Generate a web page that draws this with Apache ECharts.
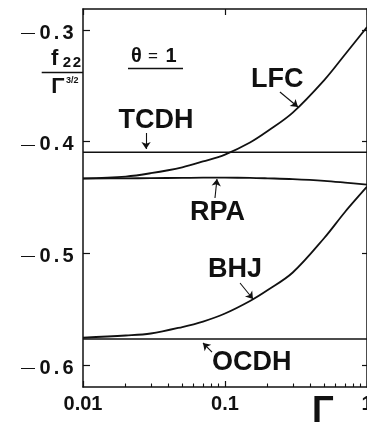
<!DOCTYPE html>
<html><head><meta charset="utf-8">
<script src="https://cdn.jsdelivr.net/npm/echarts@6/dist/echarts.min.js"></script>
<style>html,body{margin:0;padding:0;background:#fff}#c{width:367px;height:422px}</style>
</head><body><div id="c"></div>
<script>
// ---- data ----
const gamma = [0.01, 0.02, 0.03, 0.05, 0.07, 0.1, 0.15, 0.2, 0.3, 0.5, 0.7, 1.0];
const lfcValues = [-0.4329, -0.4312, -0.4282, -0.4229, -0.4177, -0.4115, -0.4007, -0.3904, -0.3739, -0.3448, -0.3219, -0.2973];
const rpaValues = [-0.4330, -0.4328, -0.4326, -0.4324, -0.4322, -0.4322, -0.4324, -0.4328, -0.4335, -0.4350, -0.4366, -0.4385];
const bhjValues = [-0.5755, -0.5735, -0.5717, -0.5659, -0.5610, -0.5538, -0.5426, -0.5328, -0.5171, -0.4862, -0.4629, -0.4403];
const tcdhValue = -0.4095;
const ocdhValue = -0.5766;
const gammaRange = [0.01, 1];
const yRange = [-0.6196, -0.2812];
const yTicks = [-0.6, -0.5, -0.4, -0.3];
const yTickLabels = ['−0.6', '−0.5', '−0.4', '−0.3'];
const xTicks = [0.01, 0.1, 1];
const xTickLabels = ['0.01', '0.1', '1'];
const xMinorTicks = [0.02, 0.03, 0.04, 0.05, 0.06, 0.07, 0.08, 0.09, 0.2, 0.3, 0.4, 0.5, 0.6, 0.7, 0.8, 0.9];
const curveNames = ['LFC', 'TCDH', 'RPA', 'BHJ', 'OCDH'];
// arrows from label to curve, in data coordinates [gamma, value]
const arrows = [
  [[0.0278, -0.3922], [0.0278, -0.4065]],
  [[0.2437, -0.3555], [0.3266, -0.3689]],
  [[0.0850, -0.4504], [0.0878, -0.4334]],
  [[0.1276, -0.5265], [0.1574, -0.5408]],
  [[0.0810, -0.5883], [0.0700, -0.5802]]
];

const FONT = '"Liberation Sans", Arial, Helvetica, sans-serif';
const INK = '#111';

const chart = echarts.init(document.getElementById('c'), null, {renderer: 'canvas'});

function yLabel(v) {
  let i = 0, best = 1e9;
  yTicks.forEach((t, k) => { const d = Math.abs(t - v); if (d < best) { best = d; i = k; } });
  const s = yTickLabels[i].replace('−', '');
  const parts = s.split('');
  return '{m|—}' + parts.map(c => c === '.' ? '{p|.}' : '{d|' + c + '}').join('');
}
function xLabel(v) {
  const i = xTicks.findIndex(t => Math.abs(Math.log10(t) - Math.log10(v)) < 1e-6);
  return i >= 0 ? xTickLabels[i] : '';
}

const pairs = vals => gamma.map((g, i) => [g, vals[i]]);
const lineStyle = {color: INK, width: 1.8};

function txt(text, x, y, size, extra) {
  return {
    type: 'text', x: x, y: y, silent: true,
    style: Object.assign({text: text, fill: INK, font: 'bold ' + size + 'px ' + FONT, textAlign: 'left', textVerticalAlign: 'middle'}, extra || {})
  };
}

chart.setOption({
  animation: false,
  backgroundColor: '#fff',
  grid: {left: 83, right: 0, top: 9, bottom: 35, containLabel: false, outerBoundsMode: 'none'},
  xAxis: [
    {
      type: 'log', logBase: 10, min: gammaRange[0], max: gammaRange[1], position: 'bottom',
      axisLine: {show: true, onZero: false, lineStyle: {color: INK, width: 1.5}},
      axisTick: {show: true, inside: true, length: 6, lineStyle: {color: INK, width: 1.2}},
      axisLabel: {show: true, formatter: xLabel, color: INK, fontSize: 20, fontWeight: 'bold', fontFamily: FONT, margin: 7, hideOverlap: false},
      splitLine: {show: false}, minorTick: {show: false}
    },
    {
      type: 'log', logBase: 10, min: gammaRange[0], max: gammaRange[1], position: 'bottom',
      axisLine: {show: false, onZero: false},
      axisTick: {show: true, inside: true, length: 3.5, customValues: xMinorTicks, lineStyle: {color: INK, width: 1.1}},
      axisLabel: {show: false}, splitLine: {show: false}
    },
    {
      type: 'log', logBase: 10, min: gammaRange[0], max: gammaRange[1], position: 'top',
      axisLine: {show: true, onZero: false, lineStyle: {color: INK, width: 1.5}},
      axisTick: {show: true, inside: true, length: 6, lineStyle: {color: INK, width: 1.2}},
      axisLabel: {show: false}, splitLine: {show: false}
    }
  ],
  yAxis: [
    {
      type: 'value', min: yRange[0], max: yRange[1], position: 'left',
      axisLine: {show: true, onZero: false, lineStyle: {color: INK, width: 1.5}},
      axisTick: {show: true, inside: true, length: 7, customValues: yTicks, lineStyle: {color: INK, width: 1.2}},
      axisLabel: {
        show: true, customValues: yTicks, formatter: yLabel, margin: 8, padding: [6, 0, 0, 0],
        rich: {
          m: {fontSize: 14, fontWeight: 'normal', width: 20, align: 'center', color: INK, fontFamily: FONT},
          d: {fontSize: 20, fontWeight: 'bold', width: 14, align: 'center', color: INK, fontFamily: FONT},
          p: {fontSize: 20, fontWeight: 'bold', width: 9, align: 'center', color: INK, fontFamily: FONT}
        }
      },
      splitLine: {show: false}
    },
    {
      type: 'value', min: yRange[0], max: yRange[1], position: 'right',
      axisLine: {show: true, onZero: false, lineStyle: {color: INK, width: 1.5}},
      axisTick: {show: true, inside: true, length: 5, customValues: yTicks, lineStyle: {color: INK, width: 1.2}},
      axisLabel: {show: false}, splitLine: {show: false}
    }
  ],
  series: [
    {name: curveNames[0], type: 'line', data: pairs(lfcValues), smooth: 0.35, showSymbol: false, symbol: 'none', lineStyle: lineStyle},
    {name: curveNames[1], type: 'line', data: [[gammaRange[0], tcdhValue], [gammaRange[1], tcdhValue]], showSymbol: false, symbol: 'none', lineStyle: {color: INK, width: 1.6},
      markLine: {
        silent: true, symbol: ['none', 'arrow'], symbolSize: 7, animation: false,
        label: {show: false},
        lineStyle: {color: INK, width: 1.1, type: 'solid'},
        data: arrows.map(a => [{coord: a[0]}, {coord: a[1]}])
      }
    },
    {name: curveNames[2], type: 'line', data: pairs(rpaValues), smooth: 0.35, showSymbol: false, symbol: 'none', lineStyle: lineStyle},
    {name: curveNames[3], type: 'line', data: pairs(bhjValues), smooth: 0.35, showSymbol: false, symbol: 'none', lineStyle: lineStyle},
    {name: curveNames[4], type: 'line', data: [[gammaRange[0], ocdhValue], [gammaRange[1], ocdhValue]], showSymbol: false, symbol: 'none', lineStyle: {color: INK, width: 1.6}}
  ],
  graphic: [
    txt(curveNames[0], 251, 79.6, 27),
    txt(curveNames[1], 118.4, 120.6, 27),
    txt(curveNames[2], 190, 212.6, 27),
    txt(curveNames[3], 208, 269.6, 27),
    txt(curveNames[4], 212, 362.6, 27),
    // theta = 1
    {type: 'text', x: 128, y: 56, silent: true, style: {
      text: '{a|θ}{b|=}{c|1}', textAlign: 'left', textVerticalAlign: 'middle',
      rich: {
        a: {fontSize: 20, fontWeight: 'bold', fontFamily: FONT, width: 17, align: 'center', fill: INK},
        b: {fontSize: 17, fontWeight: 'normal', fontFamily: FONT, width: 16, align: 'center', fill: INK},
        c: {fontSize: 20, fontWeight: 'bold', fontFamily: FONT, width: 20, align: 'center', fill: INK}
      }}},
    {type: 'line', silent: true, shape: {x1: 128, y1: 68.5, x2: 183, y2: 68.5}, style: {stroke: INK, lineWidth: 1.5}},
    // y axis title f22 / Gamma^{3/2}
    txt('f', 51, 59.4, 22),
    {type: 'text', x: 62, y: 62.5, silent: true, style: {
      text: '{s|2}{s|2}', textAlign: 'left', textVerticalAlign: 'middle',
      rich: {s: {fontSize: 15, fontWeight: 'bold', fontFamily: FONT, width: 10, align: 'center', fill: INK}}}},
    {type: 'line', silent: true, shape: {x1: 41.7, y1: 72.5, x2: 83, y2: 72.5}, style: {stroke: INK, lineWidth: 1.4}},
    txt('Γ', 51.2, 87.4, 22),
    txt('3/2', 66, 80.5, 9),
    // x axis title
    txt('Γ', 312, 412.3, 36)
  ]
});
</script>
</body></html>
